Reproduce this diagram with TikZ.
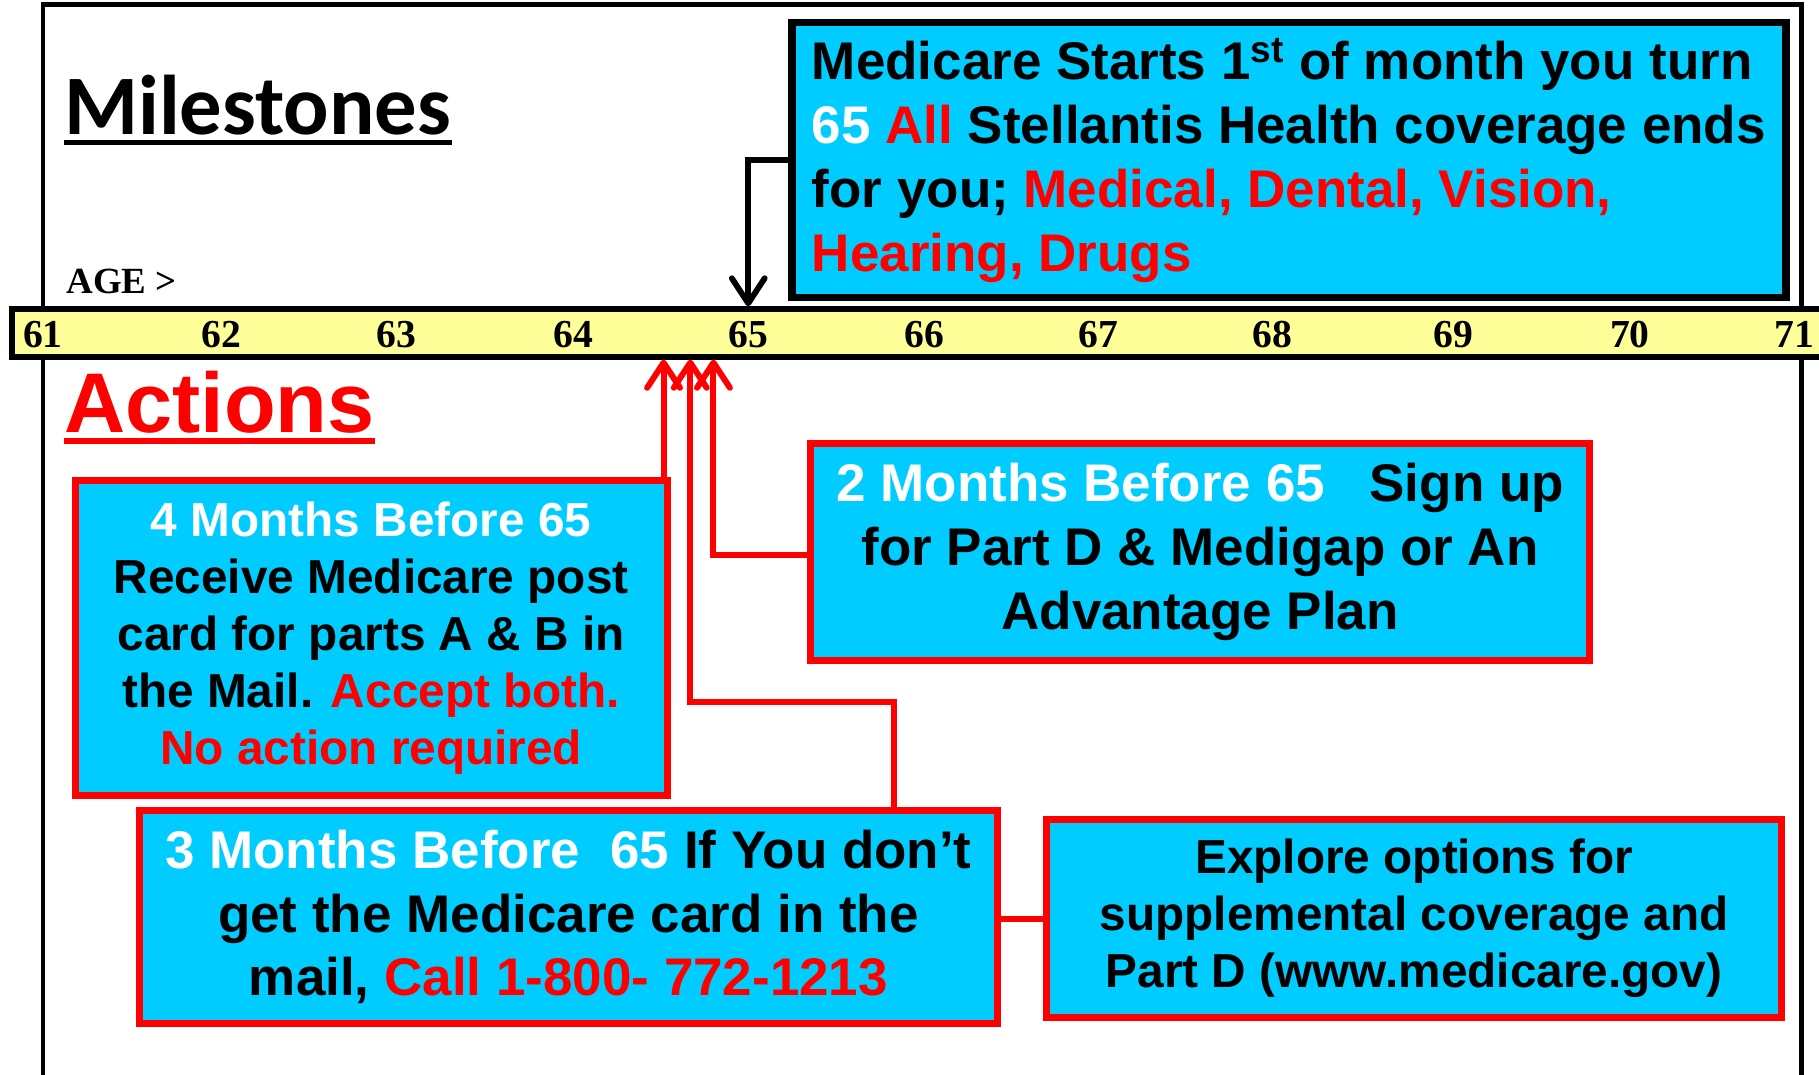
\documentclass[tikz,border=0pt]{standalone}
\usepackage{fontspec}
\setmainfont{Liberation Sans}
\newfontfamily\calibfont{Carlito}
\newfontfamily\timesfont{Liberation Serif}
\usetikzlibrary{arrows.meta}
\definecolor{boxcyan}{HTML}{00CCFF}
\definecolor{myred}{HTML}{FF0000}
\definecolor{baryellow}{HTML}{FFFF99}
\begin{document}
\begin{tikzpicture}[x=0.6pt,y=-0.6pt,
  redbox/.style={draw=myred, line width=3.6pt, fill=boxcyan, align=center, inner sep=0pt},
  topbox/.style={draw=black, line width=3.9pt, fill=boxcyan, align=left, inner sep=0pt},
  bigtxt/.style={font=\bfseries\fontsize{27.4}{33}\selectfont},
  smalltxt/.style={font=\bfseries\fontsize{24.7}{29.4}\selectfont},
  ticklbl/.style={font=\timesfont\bfseries\fontsize{20.5}{24}\selectfont, inner sep=0pt},
  redline/.style={draw=myred, line width=3.1pt},
  redarrow/.style={redline, -{Straight Barb[length=13pt,width=17pt,round]}},
  blackarrow/.style={draw=black, line width=3pt, -{Straight Barb[length=13pt,width=17pt,round]}},
]
\useasboundingbox (0,0) rectangle (1568,926);
\fill[white] (0,0) rectangle (1568,926);
% outer frame
\draw[line width=2.3pt] (37,940) -- (37,4) -- (1553,4) -- (1553,940);
% headings
\node[font=\calibfont\bfseries\fontsize{43.8}{50}\selectfont, inner sep=0pt, anchor=base west] (ms) at (55,116) {Milestones};
\draw[line width=2.6pt] ([yshift=-4.2pt]ms.base west) -- ([yshift=-4.2pt]ms.base east);
\node[font=\bfseries\fontsize{43.8}{50}\selectfont, text=myred, inner sep=0pt, anchor=base west] (act) at (55,373) {Actions};
\draw[myred, line width=3pt] ([yshift=-4.2pt]act.base west) -- ([yshift=-4.2pt]act.base east);
\node[font=\timesfont\bfseries\fontsize{19.1}{22}\selectfont, inner sep=0pt, anchor=base west] (age) at (57,253) {AGE >};
% timeline bar
\node[draw=black, line width=3pt, fill=baryellow, minimum width=0.6*1570pt, minimum height=0.6*41pt, inner sep=0pt] (bar) at (795,287) {};
\foreach \x/\n in {37/61,191/62,342/63,494/64,645/65,797/66,947/67,1097/68,1253/69,1405/70,1547/71}
  \node[ticklbl] (t\n) at (\x,288) {\n};
% top box
\node[topbox, bigtxt, minimum width=0.6*857pt, minimum height=0.6*237pt] (top) at (1111,138) {Medicare Starts 1\textsuperscript{st} of month you turn\\
\textcolor{white}{65} \textcolor{myred}{All} Stellantis Health coverage ends\\
for you; \textcolor{myred}{Medical, Dental, Vision,}\\
\textcolor{myred}{Hearing, Drugs}};
% action boxes
\node[redbox, smalltxt, minimum width=0.6*510pt, minimum height=0.6*272pt] (four) at (320,550) {\textcolor{white}{4 Months Before 65}\\
Receive Medicare post\\
card for parts A \& B in\\
the Mail. \textcolor{myred}{Accept both.}\\
\textcolor{myred}{No action required}};
\node[redbox, bigtxt, minimum width=0.6*671pt, minimum height=0.6*187pt] (two) at (1034.5,475.5) {\textcolor{white}{2 Months Before 65}\hspace{23pt}Sign up\\
for Part D \& Medigap or An\\
Advantage Plan};
\node[redbox, bigtxt, minimum width=0.6*740pt, minimum height=0.6*183pt] (three) at (490,790.5) {\textcolor{white}{3 Months Before\hspace{8pt} 65} If You don’t\\
get the Medicare card in the\\
mail, \textcolor{myred}{Call 1-800- 772-1213}};
\node[redbox, smalltxt, minimum width=0.6*634pt, minimum height=0.6*171pt] (explore) at (1219,791.5) {Explore options for\\
supplemental coverage and\\
Part D (www.medicare.gov)};
% connectors
\coordinate (k65) at (645,287);
\draw[blackarrow] (top.west |- 0,138) -| (k65 |- bar.north);
\coordinate (a1) at (572,0);
\draw[redarrow] (a1 |- four.north) -- (a1 |- bar.south);
\coordinate (b2) at (771,605);
\coordinate (b2b) at (595,605);
\draw[redarrow] (three.north -| b2) -- (b2) -- (b2b) -- (b2b |- bar.south);
\coordinate (b3) at (615,478);
\draw[redarrow] (two.west |- b3) -- (b3) -- (b3 |- bar.south);
\draw[redline] (three.east |- 0,792) -- (explore.west |- 0,792);
\end{tikzpicture}
\end{document}
